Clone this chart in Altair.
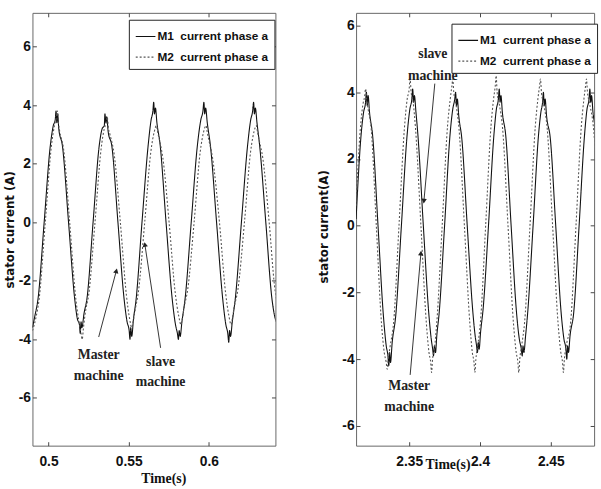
import altair as alt
import pandas as pd

SERIES = ["M1\u00a0\u00a0current phase a", "M2\u00a0\u00a0current phase a"]

# ---------------- left panel data ----------------
left_m1_t = [0.4900, 0.4915, 0.4935, 0.4973, 0.5011, 0.5030, 0.5042, 0.5047, 0.5052, 0.5057, 0.5064, 0.5087,
             0.5125, 0.5163, 0.5180, 0.5193, 0.5198, 0.5203, 0.5208, 0.5222, 0.5240,
             0.5278, 0.5316, 0.5335, 0.5348, 0.5352, 0.5358, 0.5363, 0.5372, 0.5395,
             0.5433, 0.5471, 0.5490, 0.5503, 0.5508, 0.5513, 0.5519, 0.5530, 0.5545,
             0.5583, 0.5621, 0.5640, 0.5651, 0.5656, 0.5661, 0.5667, 0.5676, 0.5695,
             0.5733, 0.5771, 0.5792, 0.5804, 0.5810, 0.5815, 0.5821, 0.5832, 0.5852,
             0.5890, 0.5928, 0.5950, 0.5963, 0.5969, 0.5974, 0.5980, 0.5990, 0.6010,
             0.6048, 0.6086, 0.6106, 0.6118, 0.6124, 0.6129, 0.6135, 0.6146, 0.6165,
             0.6203, 0.6241, 0.6261, 0.6273, 0.6279, 0.6284, 0.6290, 0.6300, 0.6317,
             0.6355, 0.6393, 0.6410, 0.6420]
left_m1_v = [-3.6, -3.2, -2.6, 0.0, 2.6, 3.3, 3.5, 3.8, 3.4, 3.7, 3.2, 2.6,
             0.0, -2.6, -3.3, -3.5, -3.8, -3.4, -3.6, -3.1, -2.6,
             0.0, 2.6, 3.2, 3.3, 3.7, 3.4, 3.6, 3.1, 2.6,
             0.0, -2.6, -3.4, -3.7, -4.0, -3.6, -3.9, -3.3, -2.7,
             0.0, 2.6, 3.5, 3.8, 4.1, 3.7, 3.9, 3.4, 2.7,
             0.0, -2.6, -3.5, -3.8, -4.0, -3.7, -3.9, -3.4, -2.6,
             0.0, 2.6, 3.5, 3.8, 4.1, 3.7, 3.9, 3.4, 2.6,
             0.0, -2.6, -3.5, -3.8, -4.1, -3.7, -3.9, -3.4, -2.6,
             0.0, 2.6, 3.5, 3.8, 4.1, 3.7, 3.9, 3.4, 2.6,
             0.0, -2.6, -3.2, -3.4]

left_m2_t = [0.4900, 0.4920, 0.4942, 0.4980, 0.5018, 0.5037, 0.5050, 0.5056, 0.5062, 0.5070, 0.5094,
             0.5132, 0.5170, 0.5190, 0.5203, 0.5210, 0.5218, 0.5232, 0.5250,
             0.5290, 0.5328, 0.5348, 0.5360, 0.5366, 0.5374, 0.5383, 0.5410,
             0.5448, 0.5486, 0.5506, 0.5520, 0.5528, 0.5540, 0.5560,
             0.5600, 0.5638, 0.5660, 0.5673, 0.5680, 0.5692, 0.5713,
             0.5752, 0.5790, 0.5812, 0.5826, 0.5834, 0.5846, 0.5868,
             0.5908, 0.5946, 0.5968, 0.5982, 0.5989, 0.6000, 0.6023,
             0.6066, 0.6104, 0.6125, 0.6139, 0.6146, 0.6158, 0.6181,
             0.6222, 0.6260, 0.6282, 0.6296, 0.6303, 0.6314, 0.6336,
             0.6376, 0.6410, 0.6420]
left_m2_v = [-3.7, -3.3, -2.6, 0.0, 2.6, 3.3, 3.6, 3.8, 3.4, 3.1, 2.5,
             0.0, -2.6, -3.4, -3.8, -4.0, -3.6, -3.0, -2.5,
             0.0, 2.5, 3.2, 3.4, 3.6, 3.2, 3.0, 2.3,
             0.0, -2.5, -3.3, -3.6, -3.4, -3.0, -2.4,
             0.0, 2.4, 3.1, 3.3, 3.1, 2.8, 2.2,
             0.0, -2.4, -3.2, -3.5, -3.3, -2.9, -2.3,
             0.0, 2.4, 3.1, 3.3, 3.1, 2.8, 2.2,
             0.0, -2.4, -3.2, -3.5, -3.3, -2.9, -2.3,
             0.0, 2.4, 3.1, 3.3, 3.1, 2.8, 2.2,
             0.0, -2.2, -2.6]

# ---------------- right panel data ----------------
right_m1_t = [2.3125, 2.3160, 2.3178, 2.3192, 2.3198, 2.3204, 2.3210, 2.3220, 2.3242,
              2.3280, 2.3318, 2.3338, 2.3350, 2.3356, 2.3362, 2.3368, 2.3380, 2.3405,
              2.3445, 2.3485, 2.3505, 2.3519, 2.3525, 2.3531, 2.3537, 2.3548, 2.3562,
              2.3600, 2.3638, 2.3656, 2.3666, 2.3672, 2.3678, 2.3686, 2.3695, 2.3712,
              2.3750, 2.3788, 2.3808, 2.3822, 2.3828, 2.3834, 2.3840, 2.3850, 2.3872,
              2.3910, 2.3948, 2.3966, 2.3976, 2.3982, 2.3988, 2.3994, 2.4004, 2.4022,
              2.4060, 2.4098, 2.4116, 2.4130, 2.4136, 2.4142, 2.4148, 2.4158, 2.4182,
              2.4220, 2.4258, 2.4278, 2.4292, 2.4298, 2.4304, 2.4310, 2.4322, 2.4337,
              2.4375, 2.4413, 2.4430, 2.4442, 2.4448, 2.4454, 2.4460, 2.4470, 2.4497,
              2.4535, 2.4573, 2.4593, 2.4607, 2.4613, 2.4619, 2.4625, 2.4636, 2.4662,
              2.4700, 2.4738, 2.4756, 2.4770, 2.4776, 2.4782, 2.4788, 2.4798, 2.4815, 2.4830]
right_m1_v = [0.2, 2.7, 3.4, 3.7, 4.0, 3.6, 3.9, 3.4, 2.7,
              0.0, -2.7, -3.6, -3.9, -4.2, -3.8, -4.1, -3.5, -2.7,
              0.0, 2.7, 3.5, 3.8, 4.1, 3.7, 3.9, 3.4, 2.7,
              0.0, -2.6, -3.4, -3.7, -3.9, -3.6, -3.8, -3.3, -2.6,
              0.0, 2.7, 3.5, 3.8, 4.0, 3.6, 3.8, 3.3, 2.6,
              0.0, -2.5, -3.3, -3.6, -3.8, -3.5, -3.7, -3.2, -2.5,
              0.0, 2.7, 3.5, 3.8, 4.1, 3.7, 3.9, 3.4, 2.7,
              0.0, -2.6, -3.4, -3.7, -3.9, -3.6, -3.8, -3.3, -2.6,
              0.0, 2.7, 3.4, 3.7, 4.0, 3.6, 3.8, 3.3, 2.6,
              0.0, -2.6, -3.4, -3.7, -4.0, -3.6, -3.8, -3.3, -2.6,
              0.0, 2.7, 3.5, 3.8, 4.1, 3.7, 3.9, 3.4, 2.9, 2.2]

right_m2_t = [2.3125, 2.3155, 2.3172, 2.3186, 2.3192, 2.3200, 2.3210, 2.3232,
              2.3268, 2.3304, 2.3324, 2.3338, 2.3345, 2.3352, 2.3366, 2.3390,
              2.3428, 2.3466, 2.3486, 2.3500, 2.3506, 2.3514, 2.3528, 2.3545,
              2.3583, 2.3621, 2.3640, 2.3652, 2.3658, 2.3665, 2.3678, 2.3695,
              2.3733, 2.3771, 2.3790, 2.3802, 2.3808, 2.3815, 2.3828, 2.3852,
              2.3890, 2.3928, 2.3946, 2.3958, 2.3964, 2.3971, 2.3984, 2.4003,
              2.4040, 2.4078, 2.4096, 2.4108, 2.4114, 2.4121, 2.4134, 2.4160,
              2.4198, 2.4236, 2.4256, 2.4268, 2.4274, 2.4281, 2.4294, 2.4315,
              2.4353, 2.4391, 2.4409, 2.4421, 2.4427, 2.4434, 2.4447, 2.4475,
              2.4513, 2.4551, 2.4571, 2.4583, 2.4589, 2.4596, 2.4609, 2.4640,
              2.4678, 2.4716, 2.4734, 2.4746, 2.4752, 2.4759, 2.4772, 2.4800, 2.4830]
right_m2_v = [0.6, 2.9, 3.6, 3.9, 4.1, 3.8, 3.5, 2.9,
              0.0, -2.9, -3.8, -4.1, -4.3, -4.0, -3.6, -2.9,
              0.0, 2.9, 3.8, 4.1, 4.4, 4.0, 3.7, 2.9,
              0.0, -2.9, -3.8, -4.1, -4.4, -4.0, -3.7, -2.9,
              0.0, 3.0, 3.8, 4.2, 4.4, 4.0, 3.7, 2.9,
              0.0, -2.9, -3.8, -4.1, -4.4, -4.0, -3.6, -2.9,
              0.0, 3.0, 3.8, 4.2, 4.5, 4.0, 3.7, 2.9,
              0.0, -2.9, -3.8, -4.1, -4.4, -4.0, -3.6, -2.9,
              0.0, 3.0, 3.8, 4.2, 4.4, 4.0, 3.7, 2.9,
              0.0, -2.9, -3.8, -4.1, -4.4, -4.0, -3.6, -2.9,
              0.0, 3.0, 3.8, 4.2, 4.4, 4.0, 3.7, 3.0, 1.2]

# ---------------- annotations (data coordinates) ----------------
left_text = ["Master", "machine", "slave", "machine"]
left_text_t = [0.5313, 0.5313, 0.5699, 0.5699]
left_text_v = [-4.52, -5.26, -4.76, -5.46]
left_arrow_t0 = [0.5313, 0.5699]
left_arrow_v0 = [-3.92, -4.29]
left_arrow_t1 = [0.5423, 0.5601]
left_arrow_v1 = [-1.66, -0.76]
left_arrow_ang = [15, 351]

right_text = ["slave", "machine", "Master", "machine"]
right_text_t = [2.3667, 2.3667, 2.3500, 2.3500]
right_text_v = [5.15, 4.50, -4.79, -5.44]
right_arrow_t0 = [2.3681, 2.3507]
right_arrow_v0 = [4.26, -4.47]
right_arrow_t1 = [2.3604, 2.3583]
right_arrow_v1 = [0.74, -0.82]
right_arrow_ang = [185, 5]

left_xticks = [0.5, 0.55, 0.6]
right_xticks = [2.35, 2.4, 2.45]
yticks = [-6, -4, -2, 0, 2, 4, 6]

SANS = "Liberation Sans, Arial"
SERIF = "Liberation Serif, Times New Roman"
LABEL_EXPR = "'' + datum.value"


def panel(t1, v1, t2, v2, xdom, ydom, xticks, w, h, ytitle, ytx, yty, xtx, xty,
          legx, legy, txt, txt_t, txt_v, a_t0, a_v0, a_t1, a_v1, a_ang):
    df = pd.DataFrame({
        "t": t1 + t2,
        "v": v1 + v2,
        "series": [SERIES[0]] * len(t1) + [SERIES[1]] * len(t2),
    })
    xs = alt.Scale(domain=xdom, nice=False, zero=False)
    ys = alt.Scale(domain=ydom, nice=False, zero=False)
    leg = alt.Legend(title=None, orient="none", legendX=legx, legendY=legy,
                     strokeColor="#222", fillColor="white", padding=6,
                     symbolType="stroke", symbolSize=400, symbolStrokeWidth=1.2,
                     labelFont=SANS, labelFontWeight="bold", labelFontSize=12,
                     labelColor="#111", labelOffset=1, rowPadding=4, cornerRadius=0)
    lines = alt.Chart(df).mark_line(interpolate="monotone", strokeWidth=1.1, clip=True).encode(
        x=alt.X("t:Q", scale=xs, axis=alt.Axis(
            values=xticks, labelExpr=LABEL_EXPR, tickSize=4, offset=-4, domain=False,
            labelPadding=9, title="Time(s)", titleFont=SERIF, titleFontWeight="bold",
            titleFontSize=14, titleColor="#111", titleX=xtx, titleY=xty,
            titleAlign="center", titleBaseline="middle")),
        y=alt.Y("v:Q", scale=ys, axis=alt.Axis(
            values=yticks, labelExpr=LABEL_EXPR, tickSize=4, offset=-4, domain=False,
            labelPadding=2, title=ytitle, titleFont="DejaVu Sans", titleFontWeight="bold",
            titleFontSize=12, titleColor="#111", titleX=ytx, titleY=yty,
            titleAlign="center", titleBaseline="middle")),
        color=alt.Color("series:N", scale=alt.Scale(domain=SERIES, range=["#111111", "#555555"]), legend=leg),
        strokeDash=alt.StrokeDash("series:N", scale=alt.Scale(domain=SERIES, range=[[1, 0], [2, 2]]), legend=leg),
    )
    mirror = alt.Chart(df).mark_point(opacity=0).encode(
        x=alt.X("t:Q", scale=xs, axis=alt.Axis(orient="top", values=xticks, labels=False,
                                               tickSize=4, offset=-4, domain=False, title=None)),
        y=alt.Y("v:Q", scale=ys, axis=alt.Axis(orient="right", values=yticks, labels=False,
                                               tickSize=4, offset=-4, domain=False, title=None)),
    )
    arr = pd.DataFrame({"t0": a_t0, "v0": a_v0, "t1": a_t1, "v1": a_v1, "ang": a_ang})
    rules = alt.Chart(arr).mark_rule(color="#333", strokeWidth=1).encode(
        x=alt.X("t0:Q", axis=None), y=alt.Y("v0:Q", axis=None), x2="t1:Q", y2="v1:Q")
    tips = alt.Chart(arr).mark_point(shape="triangle-up", filled=True, size=30, color="#222", opacity=1).encode(
        x=alt.X("t1:Q", axis=None), y=alt.Y("v1:Q", axis=None), angle=alt.Angle("ang:Q", scale=None))
    tdf = pd.DataFrame({"txt": txt, "t": txt_t, "v": txt_v})
    texts = alt.Chart(tdf).mark_text(font=SERIF, fontWeight="bold", fontSize=14, color="#222").encode(
        x=alt.X("t:Q", axis=None), y=alt.Y("v:Q", axis=None), text="txt:N")
    return alt.layer(lines, mirror, rules, tips, texts).resolve_axis(
        x="independent", y="independent").properties(width=w, height=h)


left = panel(left_m1_t, left_m1_v, left_m2_t, left_m2_v,
             [0.490, 0.6415], [-7.63, 7.15], left_xticks, 247, 440,
             "stator current (A)", -27, 220, 133, 37, 98, 7,
             left_text, left_text_t, left_text_v,
             left_arrow_t0, left_arrow_v0, left_arrow_t1, left_arrow_v1, left_arrow_ang)

right = panel(right_m1_t, right_m1_v, right_m2_t, right_m2_v,
              [2.3125, 2.4806], [-6.59, 6.38], right_xticks, 242, 440,
              "stator current(A)", -37, 217, 93, 23, 97, 11,
              right_text, right_text_t, right_text_v,
              right_arrow_t0, right_arrow_v0, right_arrow_t1, right_arrow_v1, right_arrow_ang)

chart = alt.hconcat(left, right, spacing=37).resolve_scale(
    color="independent", strokeDash="independent").resolve_legend(
    color="independent", strokeDash="independent").properties(
    padding={"left": 3, "top": 8, "right": 0, "bottom": 0}
).configure_view(stroke="#666", strokeWidth=1).configure_axis(
    labelFont=SANS, labelFontWeight="bold", labelFontSize=14, labelColor="#111",
    tickColor="#444", grid=False
)

chart.save("out.html", embed_options={"renderer": "svg", "actions": False})
